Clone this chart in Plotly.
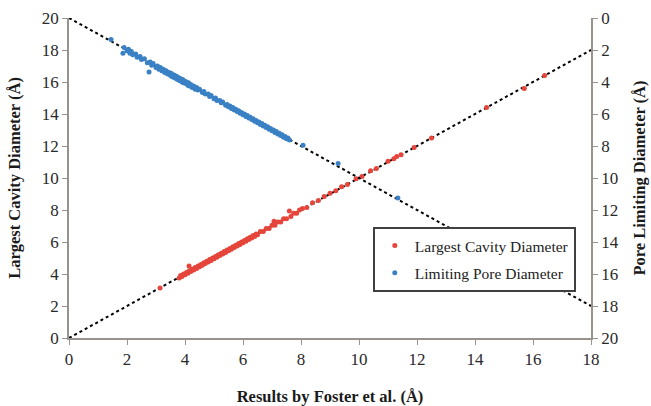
import plotly.graph_objects as go

# Largest Cavity Diameter: Foster et al. (x) vs. this work (y, left axis)
lcd_foster = [3.14, 3.8, 3.85, 3.9, 3.95, 4.0, 4.05, 4.1, 4.14, 4.15, 4.2, 4.25, 4.3, 4.35, 4.4,
              4.45, 4.5, 4.55, 4.6, 4.65, 4.7, 4.75, 4.8, 4.85, 4.9, 4.95, 5.0, 5.05, 5.1, 5.15,
              5.2, 5.25, 5.3, 5.35, 5.4, 5.45, 5.5, 5.55, 5.6, 5.65, 5.7, 5.75, 5.8, 5.85, 5.9,
              5.95, 6.0, 6.05, 6.1, 6.15, 6.2, 6.25, 6.3, 6.35, 6.4, 6.45, 6.5, 6.6, 6.7, 6.8,
              6.9, 7.0, 7.07, 7.1, 7.2, 7.3, 7.4, 7.5, 7.6, 7.65, 7.75, 7.85, 7.95, 8.05, 8.2,
              8.4, 8.6, 8.8, 9.0, 9.2, 9.4, 9.6, 9.9, 10.1, 10.4, 10.6, 11.0, 11.2, 11.3, 11.45,
              11.9, 12.5, 14.4, 15.7, 16.4]
lcd_calc = [3.12, 3.75, 3.9, 3.85, 4.0, 3.95, 4.1, 4.05, 4.5, 4.2, 4.15, 4.3, 4.25, 4.4, 4.35,
            4.5, 4.45, 4.6, 4.55, 4.7, 4.65, 4.8, 4.75, 4.9, 4.85, 5.0, 4.95, 5.1, 5.05, 5.2,
            5.15, 5.3, 5.25, 5.4, 5.35, 5.5, 5.45, 5.6, 5.55, 5.7, 5.65, 5.8, 5.75, 5.9, 5.85,
            6.0, 5.95, 6.1, 6.05, 6.2, 6.15, 6.3, 6.25, 6.4, 6.35, 6.5, 6.45, 6.65, 6.65, 6.85,
            6.85, 7.05, 7.3, 7.05, 7.25, 7.25, 7.45, 7.45, 7.94, 7.6, 7.8, 7.8, 8.0, 8.1, 8.15,
            8.45, 8.6, 8.85, 9.05, 9.2, 9.45, 9.6, 9.95, 10.1, 10.45, 10.6, 11.05, 11.2, 11.35, 11.45,
            11.9, 12.5, 14.4, 15.6, 16.4]

# Limiting Pore Diameter: Foster et al. (x) vs. this work (y, right reversed axis)
lpd_foster = [1.45, 1.86, 1.9, 2.0, 2.05, 2.1, 2.15, 2.2, 2.3, 2.35, 2.45, 2.5, 2.6, 2.7, 2.76,
              2.8, 2.85, 2.9, 3.0, 3.05, 3.1, 3.15, 3.2, 3.25, 3.3, 3.35, 3.4, 3.45, 3.5, 3.52,
              3.55, 3.6, 3.62, 3.65, 3.7, 3.72, 3.75, 3.8, 3.82, 3.85, 3.9, 3.92, 3.95, 4.0, 4.02,
              4.05, 4.1, 4.12, 4.15, 4.2, 4.25, 4.3, 4.35, 4.4, 4.45, 4.5, 4.6, 4.65, 4.7, 4.8,
              4.85, 4.9, 5.0, 5.05, 5.1, 5.2, 5.25, 5.3, 5.4, 5.45, 5.5, 5.55, 5.6, 5.65, 5.7,
              5.75, 5.8, 5.85, 5.9, 5.95, 6.0, 6.05, 6.1, 6.15, 6.2, 6.25, 6.3, 6.35, 6.4, 6.45,
              6.5, 6.55, 6.6, 6.65, 6.7, 6.75, 6.8, 6.85, 6.9, 6.95, 7.0, 7.05, 7.1, 7.15, 7.2,
              7.25, 7.3, 7.35, 7.4, 7.45, 7.5, 7.55, 7.6, 8.07, 9.28, 11.34]
lpd_calc = [1.35, 2.2, 1.85, 2.05, 1.95, 2.2, 2.1, 2.3, 2.25, 2.45, 2.4, 2.6, 2.55, 2.8, 3.38,
            2.75, 2.95, 2.85, 3.1, 3.0, 3.2, 3.1, 3.3, 3.2, 3.4, 3.3, 3.5, 3.4, 3.6, 3.45,
            3.65, 3.55, 3.72, 3.6, 3.8, 3.65, 3.85, 3.75, 3.92, 3.8, 4.0, 3.85, 4.05, 3.95, 4.1,
            4.0, 4.2, 4.05, 4.25, 4.15, 4.35, 4.25, 4.45, 4.35, 4.5, 4.45, 4.65, 4.6, 4.75, 4.75,
            4.9, 4.85, 5.05, 5.0, 5.15, 5.15, 5.3, 5.25, 5.45, 5.4, 5.55, 5.5, 5.65, 5.6, 5.75,
            5.7, 5.85, 5.8, 5.95, 5.9, 6.05, 6.0, 6.15, 6.1, 6.25, 6.2, 6.35, 6.3, 6.45, 6.4,
            6.55, 6.5, 6.65, 6.6, 6.75, 6.7, 6.85, 6.8, 6.95, 6.9, 7.05, 7.0, 7.15, 7.1, 7.25,
            7.2, 7.35, 7.3, 7.45, 7.4, 7.55, 7.5, 7.62, 7.95, 9.1, 11.25]

# Parity (y = x) reference lines
parity_x = [0, 18]
parity_y = [0, 18]

SERIF = "Liberation Serif, Times New Roman, serif"
RED = "#e5453a"
BLUE = "#3a80c4"
AXIS = "#9a928c"

fig = go.Figure()
fig.add_trace(go.Scatter(x=parity_x, y=parity_y, mode="lines", yaxis="y",
                         line=dict(color="black", width=2, dash="dot"),
                         showlegend=False, hoverinfo="skip"))
fig.add_trace(go.Scatter(x=parity_x, y=parity_y, mode="lines", yaxis="y2",
                         line=dict(color="black", width=2, dash="dot"),
                         showlegend=False, hoverinfo="skip"))
fig.add_trace(go.Scatter(x=lcd_foster, y=lcd_calc, mode="markers", yaxis="y",
                         name="Largest Cavity Diameter", legendgroup="a",
                         marker=dict(color=RED, size=5)))
fig.add_trace(go.Scatter(x=lpd_foster, y=lpd_calc, mode="markers", yaxis="y2",
                         name="Limiting Pore Diameter", legendgroup="b",
                         marker=dict(color=BLUE, size=5)))

tickfont = dict(family=SERIF, size=17, color="#2a2a2a")
titlefont = dict(family=SERIF, size=16.5, color="#1a1a1a")

fig.update_layout(
    width=651, height=406,
    margin=dict(l=69, r=60, t=18, b=68, autoexpand=False),
    paper_bgcolor="white", plot_bgcolor="white",
    xaxis=dict(range=[0, 18], dtick=2, tick0=0, showgrid=False, zeroline=False,
               showline=True, linecolor=AXIS, linewidth=1.5, automargin=False,
               ticks="outside", ticklen=5, tickcolor=AXIS,
               tickfont=tickfont,
               title=dict(text="<b>Results by Foster et al. (Å)</b>", font=titlefont, standoff=28)),
    yaxis=dict(range=[0, 20], dtick=2, tick0=0, showgrid=False, zeroline=False,
               showline=True, linecolor=AXIS, linewidth=1.5, automargin=False,
               ticks="outside", ticklen=5, tickcolor=AXIS,
               tickfont=tickfont,
               title=dict(text="<b>Largest Cavity Diameter (Å)</b>", font=titlefont, standoff=17)),
    yaxis2=dict(range=[20, 0], dtick=2, tick0=0, overlaying="y", side="right",
                showgrid=False, zeroline=False, automargin=False,
                showline=True, linecolor=AXIS, linewidth=1.5,
                ticks="outside", ticklen=5, tickcolor=AXIS,
                tickfont=tickfont,
                title=dict(text="<b>Pore Limiting Diameter (Å)</b>", font=titlefont, standoff=16)),
    legend=dict(x=0.582, y=0.347, xanchor="left", yanchor="top",
                bgcolor="white", bordercolor="#404040", borderwidth=2,
                font=dict(family=SERIF, size=15.5, color="#222222"),
                itemwidth=30, traceorder="grouped", tracegroupgap=4),
    showlegend=True,
)

fig.write_html("out.html",
               config={"displayModeBar": False},
               post_script="document.body.style.margin='0';document.body.style.overflow='hidden';")
